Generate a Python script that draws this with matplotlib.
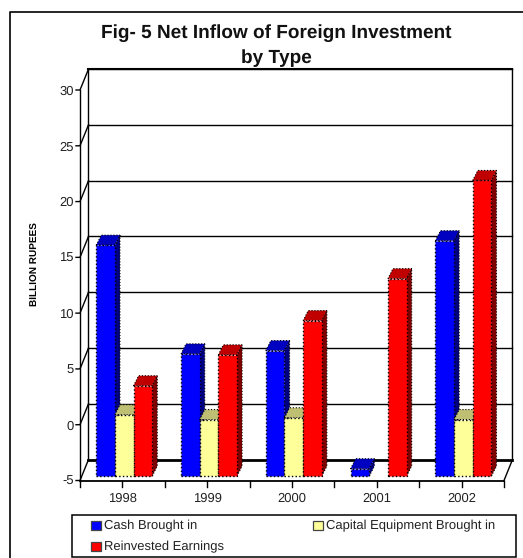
import matplotlib
matplotlib.use('Agg')
import matplotlib.pyplot as plt
from matplotlib.lines import Line2D
from matplotlib.patches import Polygon, Rectangle

plt.rcParams['font.family'] = ['Liberation Sans', 'DejaVu Sans']
plt.rcParams['text.hinting'] = 'none'
plt.rcParams['text.hinting_factor'] = 1

# Data (billion rupees)
years = ['1998', '1999', '2000', '2001', '2002']
cash = [15.7, 5.96, 6.25, -4.34, 16.1]
capital = [0.5, 0.07, 0.23, None, 0.07]
reinvested = [3.1, 5.87, 8.94, 12.7, 21.5]
y_ticks = [-5, 0, 5, 10, 15, 20, 25, 30]

series_labels = ['Cash Brought in', 'Capital Equipment Brought in', 'Reinvested Earnings']
face_colors = ['#0000FF', '#FFFF99', '#FF0000']
top_colors = ['#0000C0', '#BFBF73', '#C00000']
side_colors = ['#000080', '#808040', '#800000']

W, H = 523, 558
fig = plt.figure(figsize=(W / 100, H / 100), dpi=100)
ax = fig.add_axes([80 / W, (H - 480.5) / H, 424 / W, 390.5 / H])
ax.set_xlim(0, 5)
ax.set_ylim(-5, 30)
ax.axis('off')

# 3D offsets in data units
wall_dx, wall_dy = 0.1, 1.87
bar_dx, bar_dy = 0.021, 0.39
depth_dx, depth_dy = 0.06, 0.9
bar_w = 0.22
floor = y_ticks[0]

# walls, gridlines and tick marks
tick_x = 4 / 84.8
for t in y_ticks:
    lw = 2 if t == floor else 1
    ax.plot([wall_dx, 5 + wall_dx], [t + wall_dy, t + wall_dy], color='k', lw=lw, clip_on=False, zorder=1)
    ax.plot([-tick_x, 0, wall_dx], [t, t, t + wall_dy], color='k', lw=1, clip_on=False, zorder=1)
    ax.text(-tick_x - 0.025, t - 0.12, str(t), ha='right', va='center', fontsize=9.5, color='#222222')
ax.plot([0, 0], [-5, 30], color='k', lw=1, clip_on=False, zorder=1)
ax.plot([wall_dx, wall_dx], [-5 + wall_dy, 30 + wall_dy], color='k', lw=1, clip_on=False, zorder=1)
ax.plot([5 + wall_dx, 5 + wall_dx, 5], [30 + wall_dy, -5 + wall_dy, -5], color='k', lw=1, clip_on=False, zorder=1)
ax.plot([wall_dx, 5 + wall_dx], [30 + wall_dy, 30 + wall_dy], color='k', lw=1.5, clip_on=False, zorder=1)
ax.plot([0, 5], [-5, -5], color='k', lw=1.3, clip_on=False, zorder=1)

for i in range(11):
    ax.plot([i / 2, i / 2], [-5, -5.55], color='k', lw=1, clip_on=False, zorder=1)
for i, year in enumerate(years):
    ax.text(i + 0.5, -6.65, year, ha='center', va='center', fontsize=9.5, color='#222222')

ax.text(-0.53, 14.36, 'BILLION RUPEES', rotation=90, ha='center', va='center', fontsize=6.9, fontweight='bold')

# bars
z = 3
for s, values in enumerate([cash, capital, reinvested]):
    for i, v in enumerate(values):
        if v is None:
            continue
        x0 = i + 0.5 + bar_dx + (s - 1.5) * bar_w
        x1 = x0 + bar_w
        base = floor + bar_dy
        top = v + bar_dy
        side = Polygon([(x1, base), (x1 + depth_dx, base + depth_dy), (x1 + depth_dx, top + depth_dy), (x1, top)],
                       fc=side_colors[s], ec='k', lw=0.8, ls=':', zorder=z, clip_on=False)
        lid = Polygon([(x0, top), (x1, top), (x1 + depth_dx, top + depth_dy), (x0 + depth_dx, top + depth_dy)],
                      fc=top_colors[s], ec='k', lw=0.8, ls=':', zorder=z, clip_on=False)
        ax.add_patch(side)
        ax.add_patch(lid)
        ax.bar(x0, v - floor, width=bar_w, bottom=base, align='edge', color=face_colors[s],
               edgecolor='k', linewidth=1, linestyle=':', zorder=z + 0.5, clip_on=False)
    z += 1

# title
fig.text(276 / W, 1 - 33 / H, 'Fig- 5 Net Inflow of Foreign Investment', ha='center', va='center',
         fontsize=13.85, fontweight='bold', color='#111111')
fig.text(276 / W, 1 - 58.5 / H, 'by Type', ha='center', va='center', fontsize=13.85, fontweight='bold', color='#111111')

# outer border, only left and top show
fig.add_artist(Line2D([10 / W, 10 / W, 1], [0, 1 - 11.5 / H, 1 - 11.5 / H], color='k', lw=1.2))

# legend box
fig.add_artist(Rectangle((72 / W, 1 - 557 / H), 444 / W, 42 / H, fc='white', ec='k', lw=1.1, transform=fig.transFigure))
legend_pos = [(91, 525), (313, 525), (91, 546.5)]
for label, color, (lx, ly) in zip(series_labels, face_colors, legend_pos):
    fig.add_artist(Rectangle((lx / W, 1 - (ly + 4.5) / H), 9.5 / W, 9 / H, fc=color, ec='#444444', lw=0.9,
                             transform=fig.transFigure))
    fig.text((lx + 12.5) / W, 1 - (ly + 0.6) / H, label, ha='left', va='center', fontsize=9.65, color='#222222')

fig.savefig('out.png', dpi=100)
